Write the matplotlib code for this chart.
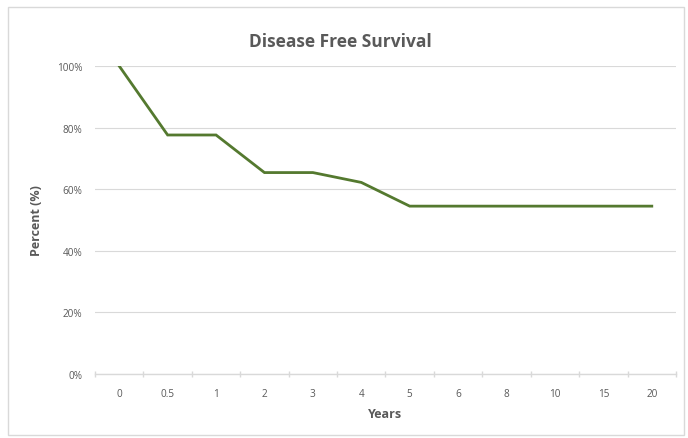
import matplotlib
matplotlib.use("Agg")
import matplotlib.pyplot as plt
from matplotlib.patches import Rectangle
from matplotlib.ticker import FuncFormatter, FixedLocator

years = ["0", "0.5", "1", "2", "3", "4", "5", "6", "8", "10", "15", "20"]
survival = [1.00, 0.776, 0.776, 0.654, 0.654, 0.622, 0.545, 0.545, 0.545, 0.545, 0.545, 0.545]
yticks = [0, 0.2, 0.4, 0.6, 0.8, 1.0]

plt.rcParams['font.family'] = ['Open Sans', 'DejaVu Sans']
grey = "#595959"
light = "#d9d9d9"

fig = plt.figure(figsize=(6.88, 4.39), dpi=100)
ax = fig.add_axes([95/688, 1-375/439, 581/688, 308/439])

x = list(range(len(years)))
ax.plot(x, survival, color="#54792f", lw=2.0, solid_joinstyle="miter")

ax.set_xlim(-0.5, len(years)-0.5)
ax.set_ylim(0, 1.0)
ax.set_yticks(yticks)
ax.yaxis.set_major_formatter(FuncFormatter(lambda v, p: f"{v*100:.0f}%"))
ax.set_xticks(x)
ax.set_xticklabels(years)
ax.xaxis.set_minor_locator(FixedLocator([i - 0.5 for i in range(len(years)+1)]))

for s in ["top", "right", "left"]:
    ax.spines[s].set_visible(False)
ax.spines["bottom"].set_color(light)
ax.spines["bottom"].set_linewidth(1.0)
ax.spines["bottom"].set_zorder(0.5)

ax.grid(axis="y", color=light, lw=0.8)
ax.set_axisbelow(True)
ax.tick_params(axis="y", length=0, pad=9, labelsize=7.2, labelcolor=grey)
ax.tick_params(axis="x", which="major", length=0, pad=10, labelsize=7.2, labelcolor=grey)
ax.tick_params(axis="x", which="minor", length=5, direction="inout", color=light, width=1.0)

ax.set_xlabel("Years", fontsize=9, fontweight="bold", color=grey, labelpad=6)
ax.set_ylabel("Percent (%)", fontsize=9, fontweight="bold", color=grey, labelpad=10)

fig.text(340/688, 1-42/439, "Disease Free Survival", ha="center", va="center",
         fontsize=12.5, fontweight="bold", color=grey)

fig.patches.append(Rectangle((8/688, 3/439), 676/688, 428/439, transform=fig.transFigure,
                             fill=False, edgecolor=light, lw=1.0))

fig.savefig("out.png", dpi=100, facecolor="white")
